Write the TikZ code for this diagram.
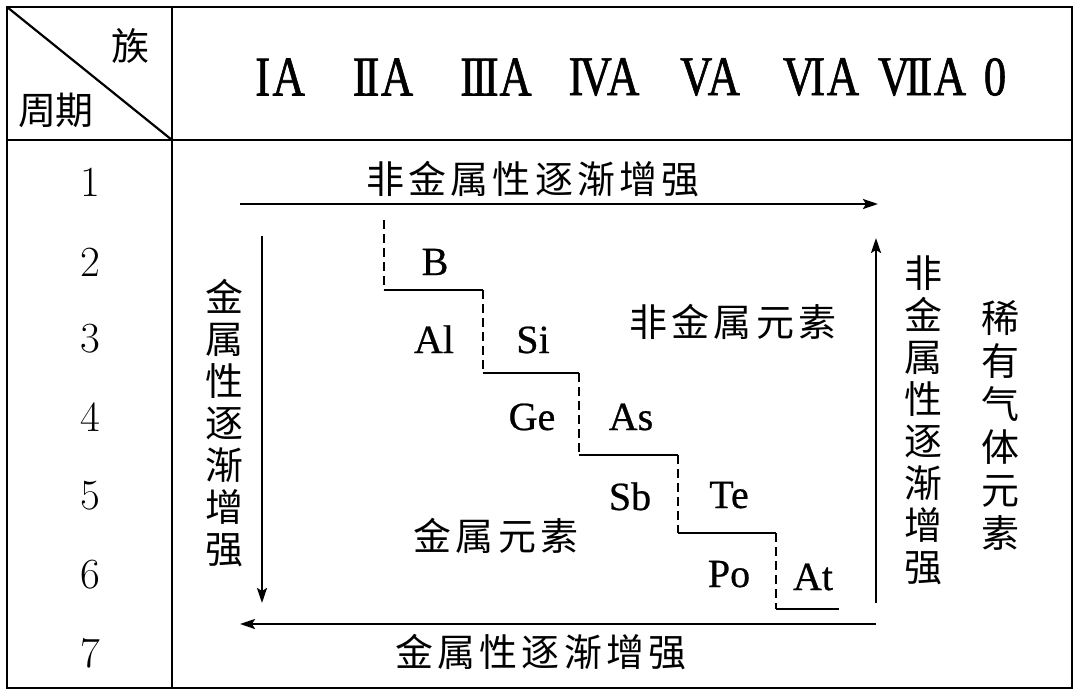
\documentclass[tikz,border=0pt]{standalone}
\usepackage{fontspec}
\usepackage{graphicx}
\newfontfamily\tnr{Liberation Serif}
\newfontfamily\tnrb[FakeBold=1.2]{Liberation Serif}
\newfontfamily\tnre[FakeBold=0.6]{Liberation Serif}
\newfontfamily\cjk[LetterSpace=11]{Noto Sans CJK SC}
\newfontfamily\cjkn{Noto Sans CJK SC}
\usetikzlibrary{arrows.meta}
\newcommand{\rnm}[1]{\scalebox{0.8}[1]{#1}}
\begin{document}
\begin{tikzpicture}[x=1pt,y=-1pt,
  frame/.style={line width=2.2pt},
  conn/.style={line width=2.2pt,-{Stealth[length=15pt,width=10pt,inset=3pt]}},
  solidstep/.style={line width=2pt},
  dashstep/.style={line width=2pt,dash pattern=on 9pt off 5pt},
  cn/.style={font=\cjk\fontsize{38}{42}\selectfont,inner sep=0pt},
  cnh/.style={font=\cjkn\fontsize{38}{42}\selectfont,inner sep=0pt},
  cnv/.style={font=\cjkn\fontsize{38}{42}\selectfont,inner sep=0pt,align=center},
  rn/.style={font=\tnrb\fontsize{56}{56}\selectfont,inner sep=0pt},
  el/.style={font=\tnre\fontsize{40}{40}\selectfont,inner sep=0pt,anchor=base},
  num/.style={font=\fontsize{43}{43}\selectfont,inner sep=0pt}]
\useasboundingbox (0,0) rectangle (1080,699);
\fill[white] (0,0) rectangle (1080,699);

% table frame
\draw[frame] (7,7) rectangle (1072,688);
\draw[frame] (172,7) -- (172,688);
\draw[frame] (7,140) -- (1072,140);
\draw[frame] (7,7) -- (172,140);

% header
\node[cnh] (zu) at (130,46) {族};
\node[cnh] (zq) at (56,110) {周期};
\node[rn] (g1) at (280,77) {\rnm{I\kern3pt A}};
\node[rn] (g2) at (383,77) {\rnm{I\kern-4pt I\kern2pt A}};
\node[rn] (g3) at (496,77) {\rnm{I\kern-4pt I\kern-4pt I\kern1pt A}};
\node[rn] (g4) at (604,77) {\rnm{I\kern-5pt V\kern-6pt A}};
\node[rn] (g5) at (710,77) {\rnm{V\kern-6pt A}};
\node[rn] (g6) at (821,77) {\rnm{V\kern-6pt I\kern2pt A}};
\node[rn] (g7) at (922,77) {\rnm{V\kern-6pt I\kern-4pt I\kern2pt A}};
\node[rn] (g8) at (995,77) {\rnm{0}};

% period numbers
\node[num] (p1) at (90,182) {1};
\node[num] (p2) at (90,262) {2};
\node[num] (p3) at (90,339) {3};
\node[num] (p4) at (90,417) {4};
\node[num] (p5) at (90,496) {5};
\node[num] (p6) at (90,575) {6};
\node[num] (p7) at (90,653) {7};

% arrows
\coordinate (ta) at (240,204);
\coordinate (tb) at (878,204);
\coordinate (la) at (262,236);
\coordinate (lb) at (262,603);
\coordinate (ba) at (876,624);
\coordinate (bb) at (240,624);
\coordinate (ra) at (876,603);
\coordinate (rb) at (876,238);
\draw[conn] (ta) -- (tb);
\draw[conn] (la) -- (lb);
\draw[conn] (ba) -- (bb);
\draw[conn] (ra) -- (rb);

% arrow labels
\node[cn] (tl) at (533,179) {非金属性逐渐增强};
\node[cn] (bl) at (541,652) {金属性逐渐增强};
\node[cnv] (ll) at (224,423) {金\\属\\性\\逐\\渐\\增\\强};
\node[cnv] (rl) at (923,420) {非\\金\\属\\性\\逐\\渐\\增\\强};
\node[cnv, font=\cjkn\fontsize{38}{43}\selectfont] (xy) at (1000,425) {稀\\有\\气\\体\\元\\素};

% region labels
\node[cn] (fj) at (733,322) {非金属元素};
\node[cn] (jj) at (496,536) {金属元素};

% staircase
\coordinate (s0) at (384,220);
\coordinate (s1) at (384,290);
\coordinate (s2) at (483,290);
\coordinate (s3) at (483,373);
\coordinate (s4) at (579,373);
\coordinate (s5) at (579,455);
\coordinate (s6) at (678,455);
\coordinate (s7) at (678,533);
\coordinate (s8) at (776,533);
\coordinate (s9) at (776,609);
\coordinate (s10) at (839,609);
\draw[dashstep] (s0) -- (s1);
\draw[solidstep] (s1) -- (s2);
\draw[dashstep] (s2) -- (s3);
\draw[solidstep] (s3) -- (s4);
\draw[dashstep] (s4) -- (s5);
\draw[solidstep] (s5) -- (s6);
\draw[dashstep] (s6) -- (s7);
\draw[solidstep] (s7) -- (s8);
\draw[dashstep] (s8) -- (s9);
\draw[solidstep] (s9) -- (s10);

% elements
\node[el] (eB) at (435,275) {B};
\node[el] (eAl) at (434,353) {Al};
\node[el] (eSi) at (533,353) {Si};
\node[el] (eGe) at (532,430) {Ge};
\node[el] (eAs) at (631,430) {As};
\node[el] (eSb) at (630,510) {Sb};
\node[el] (eTe) at (729,508) {Te};
\node[el] (ePo) at (729,587) {Po};
\node[el] (eAt) at (813,590) {At};
\end{tikzpicture}
\end{document}
